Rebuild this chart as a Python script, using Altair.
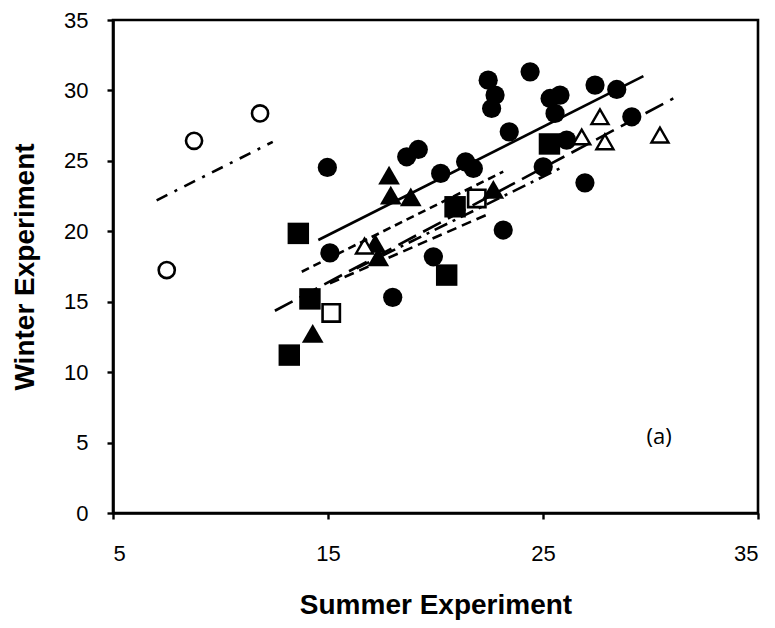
import altair as alt
import pandas as pd

# Observations: summer vs winter values per group
filled_circle_x = [14.97, 15.09, 18.01, 18.66, 19.2, 20.24, 21.4, 21.76, 19.9, 23.15,
                   22.45, 22.77, 22.61, 24.4, 23.43, 25.01, 25.33, 25.79, 25.56, 27.42,
                   28.43, 29.13, 26.95, 26.1]
filled_circle_y = [24.53, 18.47, 15.31, 25.29, 25.81, 24.11, 24.93, 24.46, 18.19, 20.09,
                   30.73, 29.67, 28.72, 31.32, 27.06, 24.58, 29.43, 29.67, 28.37, 30.38,
                   30.07, 28.13, 23.44, 26.47]

open_circle_x = [7.5, 8.77, 11.84]
open_circle_y = [17.25, 26.42, 28.37]

filled_square_x = [13.62, 14.16, 13.2, 20.52, 20.91, 25.3]
filled_square_y = [19.85, 15.2, 11.21, 16.89, 21.74, 26.2]

open_square_x = [15.15, 21.92]
open_square_y = [14.2, 22.33]

filled_triangle_x = [14.29, 17.84, 17.92, 18.85, 17.2, 17.34, 22.69]
filled_triangle_y = [12.75, 23.99, 22.57, 22.45, 19.14, 18.19, 22.98]

open_triangle_x = [16.7, 26.8, 27.65, 27.88, 30.44]
open_triangle_y = [18.95, 26.7, 28.13, 26.35, 26.83]

# Linear trend lines: end points (x) and fitted values (y)
trend_open_circle_x = [7.03, 12.43]
trend_open_circle_y = [22.2, 26.35]
trend_filled_circle_x = [14.55, 29.67]
trend_filled_circle_y = [19.38, 31.01]
trend_filled_square_x = [12.53, 31.06]
trend_filled_square_y = [14.36, 29.43]
trend_filled_triangle_x = [13.78, 23.15]
trend_filled_triangle_y = [17.13, 24.23]
trend_open_triangle_x = [16.33, 25.87]
trend_open_triangle_y = [17.37, 24.53]
trend_open_square_x = [15.09, 22.53]
trend_open_square_y = [16.3, 21.27]

x_ticks = [5, 15, 25, 35]
y_ticks = [0, 5, 10, 15, 20, 25, 30, 35]

X = alt.X("x:Q", scale=alt.Scale(domain=[5, 35], nice=False, zero=False),
          axis=alt.Axis(values=x_ticks, title="Summer Experiment"))
Y = alt.Y("y:Q", scale=alt.Scale(domain=[0, 35], nice=False),
          axis=alt.Axis(values=y_ticks, title="Winter Experiment"))


def frame(xs, ys):
    return pd.DataFrame({"x": xs, "y": ys})


def points(xs, ys, shape, filled, size, stroke_width=2.6):
    kw = dict(shape=shape, size=size, opacity=1)
    if filled:
        kw.update(filled=True, color="black", strokeWidth=0)
    else:
        kw.update(filled=False, fill="white", fillOpacity=1, stroke="black",
                  strokeWidth=stroke_width)
    return alt.Chart(frame(xs, ys)).mark_point(**kw).encode(x=X, y=Y)


def trend(xs, ys, dash=None):
    kw = dict(color="black", strokeWidth=2.6)
    if dash:
        kw["strokeDash"] = dash
    return alt.Chart(frame(xs, ys)).mark_line(**kw).encode(x=X, y=Y)


marks = [
    points(filled_circle_x, filled_circle_y, "circle", True, 370),
    points(open_circle_x, open_circle_y, "circle", False, 260),
    points(filled_square_x, filled_square_y, "square", True, 460),
    points(open_square_x, open_square_y, "square", False, 300),
    points(filled_triangle_x, filled_triangle_y, "triangle-up", True, 470),
    points(open_triangle_x, open_triangle_y, "triangle-up", False, 290, 2.4),
    trend(trend_open_circle_x, trend_open_circle_y, [12, 8, 3, 8]),
    trend(trend_filled_circle_x, trend_filled_circle_y),
    trend(trend_filled_square_x, trend_filled_square_y, [20, 8]),
    trend(trend_filled_triangle_x, trend_filled_triangle_y, [8, 5]),
    trend(trend_open_triangle_x, trend_open_triangle_y, [14, 6, 3, 6]),
    trend(trend_open_square_x, trend_open_square_y, [10, 6]),
]

panel_label = alt.Chart(pd.DataFrame({"t": ["(a)"]})).mark_text(
    font="Open Sans", fontSize=22, color="black", align="center", baseline="middle"
).encode(x=alt.datum(30.4), y=alt.datum(5.4), text="t:N")

chart = alt.layer(*marks, panel_label).properties(
    width=645,
    height=493,
    autosize=alt.AutoSizeParams(type="none"),
    padding={"left": 113, "top": 20, "right": 17, "bottom": 115},
    background="white",
).configure_view(
    stroke="black", strokeWidth=2.6
).configure_axis(
    grid=False,
    domainColor="black",
    domainWidth=2.6,
    tickColor="black",
    tickWidth=2.4,
    tickSize=6,
    labelFont="Liberation Sans",
    labelFontSize=22,
    labelColor="black",
    titleFont="Liberation Sans",
    titleFontSize=28,
    titleFontWeight="bold",
    titleColor="black",
).configure_axisX(
    labelPadding=24, titleY=100, titleBaseline="alphabetic"
).configure_axisY(
    labelPadding=19, titleX=-80, titleBaseline="alphabetic"
)

chart.save("out.html", embed_options={"renderer": "svg", "actions": False})
